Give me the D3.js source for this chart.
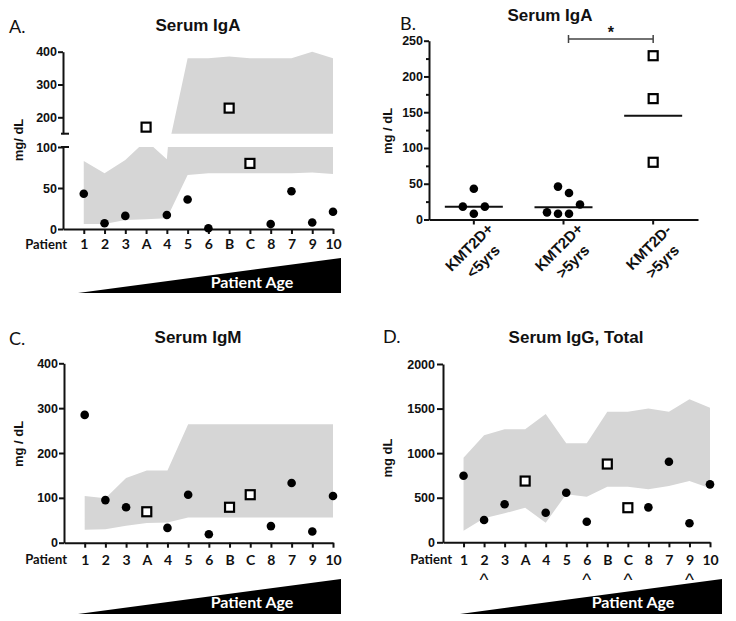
<!DOCTYPE html>
<html>
<head>
<meta charset="utf-8">
<script src="https://cdn.jsdelivr.net/npm/d3@7/dist/d3.min.js"></script>
<style>
  body { margin: 0; background: #fff; }
  svg text { font-family: "Liberation Sans", Arial, sans-serif; fill: #111; }
  .axis path, .axis line { stroke: #111; stroke-width: 2px; }
  .axis text { font-weight: bold; font-size: 12.5px; }
  .xcat text { font-family: Lato, "Open Sans", sans-serif; font-size: 14px; font-weight: bold; }
  .title { font-size: 17px; font-weight: bold; }
  .letter { font-family: Lato, "Open Sans", sans-serif !important; font-size: 18px; }
  .ylab { font-size: 13px; font-weight: bold; }
  .age { font-family: Lato, "Open Sans", sans-serif !important; font-size: 16px; font-weight: bold; fill: #fff !important; }
</style>
</head>
<body>
<svg id="chart" width="736" height="621"></svg>
<script>
// patients ordered by age; A, B, C are KMT2D-negative (open squares)
const patients = ['1', '2', '3', 'A', '4', '5', '6', 'B', 'C', '8', '7', '9', '10'];
const negPatients = ['A', 'B', 'C'];

// Serum IgA (mg/dL) and age-matched normal range
const igaValues = [43, 7, 16, 170, 17, 36, 1, 228, 80, 6, 46, 8, 21];
const igaRangeLow = [6, 6, 11, 12, 13, 66, 68, 68, 68, 68, 68, 69, 67];
const igaRangeHigh = [83, 68, 84, 108, 85, 380, 380, 385, 380, 380, 380, 400, 380];

// Serum IgM
const igmValues = [285, 95, 79, 69, 33, 107, 19, 79, 107, 37, 133, 25, 104];
const igmRangeLow = [29, 30, 38, 44, 45, 56, 56, 56, 56, 56, 56, 56, 56];
const igmRangeHigh = [104, 99, 144, 161, 161, 264, 264, 264, 264, 264, 264, 264, 264];

// Serum IgG, total
const iggValues = [747, 250, 426, 687, 332, 556, 231, 878, 388, 392, 904, 213, 650];
const iggRangeLow = [130, 269, 325, 388, 220, 538, 511, 623, 623, 594, 631, 687, 605];
const iggRangeHigh = [948, 1200, 1267, 1267, 1438, 1110, 1110, 1464, 1464, 1502, 1464, 1606, 1509];
const iggFlagged = ['2', '6', 'C', '9'];

// Panel B: IgA by group
const groups = ['KMT2D+|<5yrs', 'KMT2D+|>5yrs', 'KMT2D-|>5yrs'];
const groupValues = [
  [43, 18, 8, 18],
  [46, 37, 21, 10, 8, 8],
  [229, 169, 80]
];
const groupSlots = [
  [0, -1, 0, 1],
  [-0.5, 0.5, 1.5, -1.5, -0.5, 0.5],
  [0, 0, 0]
];
const groupLines = [18, 17, 145];

const svg = d3.select('#chart');
const bandColor = '#d6d6d6';

function drawBand(g, x, y, low, high, clip) {
  const area = d3.area()
    .x((d, i) => x(i))
    .y0((d, i) => y(low[i]))
    .y1((d, i) => y(high[i]));
  g.append('path')
    .datum(patients)
    .attr('d', area)
    .attr('fill', bandColor)
    .attr('clip-path', clip ? `url(#${clip})` : null);
}

function drawPoints(g, x, yOf, values) {
  const pts = values.map((v, i) => ({ p: patients[i], i, v }));
  g.selectAll(null)
    .data(pts.filter(d => !negPatients.includes(d.p)))
    .join('circle')
    .attr('cx', d => x(d.i))
    .attr('cy', d => yOf(d.v))
    .attr('r', 4.3)
    .attr('fill', '#000');
  g.selectAll(null)
    .data(pts.filter(d => negPatients.includes(d.p)))
    .join('rect')
    .attr('x', d => x(d.i) - 4.5)
    .attr('y', d => yOf(d.v) - 4.5)
    .attr('width', 9)
    .attr('height', 9)
    .attr('fill', '#fff')
    .attr('stroke', '#000')
    .attr('stroke-width', 2.2);
}

function drawPatientAxis(g, x, base, labelTop, patientX) {
  const axis = d3.axisBottom(x)
    .tickValues(d3.range(patients.length))
    .tickFormat(i => patients[i])
    .tickSize(5)
    .tickSizeOuter(0);
  const ax = g.append('g')
    .attr('class', 'axis xcat')
    .attr('transform', `translate(0,${base})`)
    .call(axis);
  ax.selectAll('text').attr('y', labelTop).attr('dy', '0.71em');
  ax.append('text')
    .attr('x', patientX)
    .attr('y', labelTop)
    .attr('dy', '0.71em')
    .attr('text-anchor', 'end')
    .style('font-size', '13px')
    .text('Patient');
}

function drawWedge(g, w) {
  g.append('path')
    .attr('d', d3.line()([[w.x0, w.bottom], [w.x1, w.top], [w.x1, w.bottom]]) + 'Z')
    .attr('fill', '#000');
  g.append('text')
    .attr('class', 'age')
    .attr('x', w.tx)
    .attr('y', w.ty)
    .attr('text-anchor', 'middle')
    .text('Patient Age');
}

function drawLabels(g, o) {
  g.append('text').attr('class', 'letter').attr('x', o.letter[0]).attr('y', o.letter[1]).text(o.letter[2]);
  g.append('text').attr('class', 'title').attr('x', o.title[0]).attr('y', o.title[1])
    .attr('text-anchor', 'middle').text(o.title[2]);
  g.append('text').attr('class', 'ylab')
    .attr('transform', `translate(${o.ylab[0]},${o.ylab[1]}) rotate(-90)`)
    .attr('text-anchor', 'middle').attr('dy', '0.35em').text(o.ylab[2]);
}

// ---------- Panel A: IgA with broken axis ----------
(function () {
  const g = svg.append('g');
  const x = d3.scaleLinear().domain([-1, patients.length - 1]).range([63, 333]);
  const yLow = d3.scaleLinear().domain([0, 100]).range([229, 147]);
  const yHigh = d3.scaleLinear().domain([150, 400]).range([133.7, 51.7]);
  const yOf = v => v > 125 ? yHigh(v) : yLow(v);

  const defs = svg.append('defs');
  defs.append('clipPath').attr('id', 'clipLow').append('rect')
    .attr('x', 63).attr('y', yLow(100)).attr('width', 280).attr('height', yLow(0) - yLow(100));
  defs.append('clipPath').attr('id', 'clipHigh').append('rect')
    .attr('x', 63).attr('y', 40).attr('width', 280).attr('height', yHigh(150) - 40);

  drawBand(g, x, yLow, igaRangeLow, igaRangeHigh, 'clipLow');
  drawBand(g, x, yHigh, igaRangeLow, igaRangeHigh, 'clipHigh');

  g.append('g').attr('class', 'axis').attr('transform', 'translate(63,0)')
    .call(d3.axisLeft(yLow).tickValues([0, 50, 100]).tickSize(5).tickSizeOuter(0).tickPadding(1));
  g.append('g').attr('class', 'axis').attr('transform', 'translate(63,0)')
    .call(d3.axisLeft(yHigh).tickValues([200, 300, 400]).tickSize(5).tickSizeOuter(0).tickPadding(1));
  // break marks
  [yHigh(150), yLow(100)].forEach(yy => {
    g.append('line').attr('x1', 61).attr('x2', 69).attr('y1', yy).attr('y2', yy)
      .attr('stroke', '#111').attr('stroke-width', 2);
  });

  drawPatientAxis(g, x, 229, 10.5, 67);
  drawPoints(g, x, yOf, igaValues);
  drawWedge(g, { x0: 78, x1: 341, top: 258, bottom: 293, tx: 252, ty: 288 });
  drawLabels(g, { letter: [9, 33, 'A.'], title: [198, 31, 'Serum IgA'], ylab: [18, 140, 'mg/ dL'] });
})();

// ---------- Panel B: IgA by group ----------
(function () {
  const g = svg.append('g');
  const x = d3.scaleBand().domain(groups).range([429, 698]);
  const y = d3.scaleLinear().domain([0, 250]).range([219.5, 40.7]);
  const cx = d => x(d) + x.bandwidth() / 2;

  const ya = g.append('g').attr('class', 'axis').attr('transform', 'translate(429,0)')
    .call(d3.axisLeft(y).tickValues(d3.range(0, 251, 25))
      .tickFormat(d => d % 50 ? '' : d).tickSize(5).tickSizeOuter(0).tickPadding(1));
  ya.selectAll('.tick').filter(d => d % 50).select('line').attr('x2', -3);

  g.append('g').attr('class', 'axis').attr('transform', 'translate(0,219.5)')
    .call(d3.axisBottom(x).tickSize(5).tickSizeOuter(0).tickFormat(''));

  groups.forEach((grp, gi) => {
    const [l1, l2] = grp.split('|');
    const t = g.append('text')
      .attr('transform', `translate(${cx(grp) - 1},251) rotate(-45)`)
      .attr('text-anchor', 'middle')
      .style('font-size', '15px').style('font-weight', 'bold');
    t.append('tspan').attr('x', 0).attr('dy', 0).text(l1);
    t.append('tspan').attr('x', 0).attr('dy', '1.32em').text(l2);

    g.append('line')
      .attr('x1', cx(grp) - 29).attr('x2', cx(grp) + 29)
      .attr('y1', y(groupLines[gi])).attr('y2', y(groupLines[gi]))
      .attr('stroke', '#111').attr('stroke-width', 2);

    const pts = groupValues[gi].map((v, k) => ({ v, s: groupSlots[gi][k] }));
    if (gi < 2) {
      g.selectAll(null).data(pts).join('circle')
        .attr('cx', d => cx(grp) + d.s * 11).attr('cy', d => y(d.v))
        .attr('r', 4.3).attr('fill', '#000');
    } else {
      g.selectAll(null).data(pts).join('rect')
        .attr('x', d => cx(grp) + d.s * 11 - 4.5).attr('y', d => y(d.v) - 4.5)
        .attr('width', 9).attr('height', 9)
        .attr('fill', '#fff').attr('stroke', '#000').attr('stroke-width', 2.2);
    }
  });

  // significance bracket between groups 2 and 3
  const bx0 = cx(groups[1]) + 5, bx1 = cx(groups[2]), by = 39;
  g.append('path')
    .attr('d', `M${bx0},${by - 4}V${by + 4}M${bx0},${by}H${bx1}M${bx1},${by - 4}V${by + 4}`)
    .attr('stroke', '#444').attr('stroke-width', 1.5).attr('fill', 'none');
  g.append('text').attr('x', (bx0 + bx1) / 2).attr('y', 38).attr('text-anchor', 'middle')
    .style('font-size', '16px').style('font-weight', 'bold').text('*');

  drawLabels(g, { letter: [400, 30, 'B.'], title: [550, 21, 'Serum IgA'], ylab: [387, 131, 'mg / dL'] });
})();

// ---------- Panel C: IgM ----------
(function () {
  const g = svg.append('g');
  const x = d3.scaleLinear().domain([-1, patients.length - 1]).range([64, 333]);
  const y = d3.scaleLinear().domain([0, 400]).range([542.7, 363.3]);

  drawBand(g, x, y, igmRangeLow, igmRangeHigh);
  g.append('g').attr('class', 'axis').attr('transform', 'translate(64,0)')
    .call(d3.axisLeft(y).tickValues([0, 100, 200, 300, 400]).tickSize(5).tickSizeOuter(0).tickPadding(1));
  drawPatientAxis(g, x, 542.7, 12.3, 67);
  drawPoints(g, x, y, igmValues);
  drawWedge(g, { x0: 78, x1: 341, top: 579, bottom: 614, tx: 252, ty: 608 });
  drawLabels(g, { letter: [9, 345, 'C.'], title: [198, 343, 'Serum IgM'], ylab: [18, 444, 'mg / dL'] });
})();

// ---------- Panel D: IgG total ----------
(function () {
  const g = svg.append('g');
  const x = d3.scaleLinear().domain([-1, patients.length - 1]).range([443, 710]);
  const y = d3.scaleLinear().domain([0, 2000]).range([542.3, 364]);

  drawBand(g, x, y, iggRangeLow, iggRangeHigh);
  g.append('g').attr('class', 'axis').attr('transform', 'translate(443,0)')
    .call(d3.axisLeft(y).tickValues([0, 500, 1000, 1500, 2000]).tickFormat(d3.format('d'))
      .tickSize(6).tickSizeOuter(0).tickPadding(2));
  drawPatientAxis(g, x, 542.3, 12.7, 452);
  drawPoints(g, x, y, iggValues);

  g.selectAll(null)
    .data(patients.map((p, i) => ({ p, i })).filter(d => iggFlagged.includes(d.p)))
    .join('text')
    .attr('x', d => x(d.i))
    .attr('y', 586)
    .attr('text-anchor', 'middle')
    .style('font-family', '"Liberation Sans", Arial, sans-serif')
    .style('font-size', '19px')
    .text('^');

  drawWedge(g, { x0: 460, x1: 722, top: 579, bottom: 614, tx: 633, ty: 608 });
  drawLabels(g, { letter: [383, 343, 'D.'], title: [576, 343, 'Serum IgG, Total'], ylab: [387, 458, 'mg dL'] });
})();
</script>
</body>
</html>
